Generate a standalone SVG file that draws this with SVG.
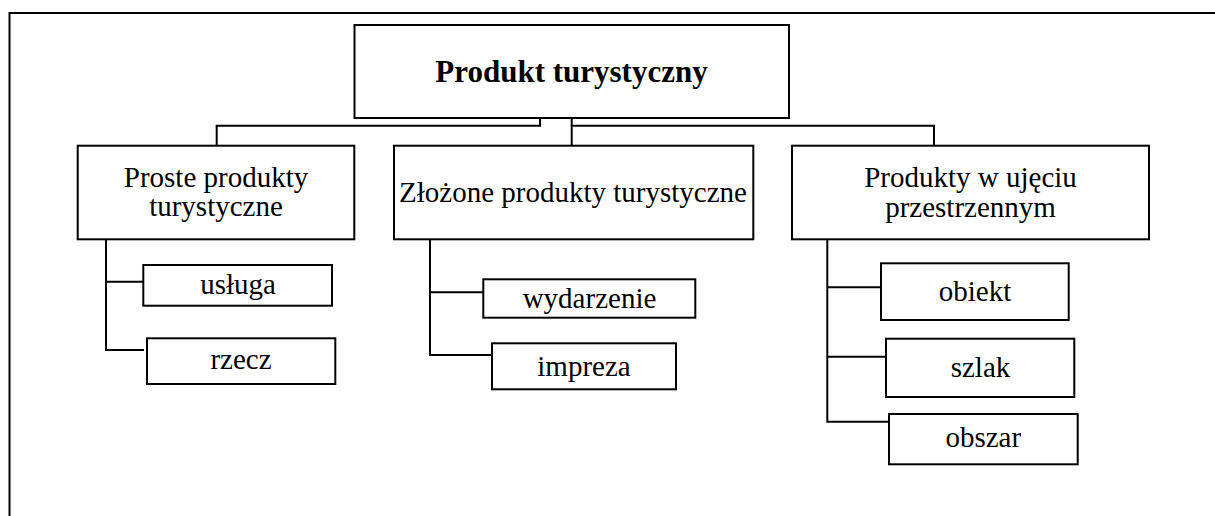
<svg xmlns="http://www.w3.org/2000/svg" width="1215" height="516" viewBox="0 0 1215 516">
<style>
.box{fill:#fff;stroke:#000;stroke-width:2}
.ln{fill:none;stroke:#000;stroke-width:2}
text{font-family:"Liberation Serif","Times New Roman",serif;font-size:29px;fill:#000;text-anchor:middle}
.title{font-weight:bold;font-size:31px}
</style>
<rect width="1215" height="516" fill="#fff"/>
<path class="ln" d="M9.5 516 V13 H1215"/>
<g id="connectors">
<path class="ln" d="M540 118 V125.7 H216.7 V145"/>
<path class="ln" d="M571.7 118 V145 M571.7 125.7 H934 V145"/>
<path class="ln" d="M106 239 V350 H144 M106 281.7 H143"/>
<path class="ln" d="M430 239 V355 H492 M430 292.3 H483"/>
<path class="ln" d="M827.3 239 V421.7 H889 M827.3 287.3 H881 M827.3 356.7 H886"/>
</g>
<g id="root"><rect class="box" x="354.5" y="25" width="434.5" height="93"/><text class="title" x="571.5" y="81.7">Produkt turystyczny</text></g>
<g id="proste"><rect class="box" x="77.7" y="145.7" width="276.6" height="93.6"/><text x="216" y="186.7">Proste produkty</text><text x="216" y="216">turystyczne</text></g>
<g id="zlozone"><rect class="box" x="394" y="145.7" width="359.3" height="93.6"/><text x="573" y="201.7">Złożone produkty turystyczne</text></g>
<g id="przestrzenne"><rect class="box" x="792" y="145.7" width="357" height="93.6"/><text x="970.5" y="186.7">Produkty w ujęciu</text><text x="970.5" y="216.7">przestrzennym</text></g>
<g id="usluga"><rect class="box" x="143.3" y="265" width="188.7" height="40.7"/><text x="238" y="294.3">usługa</text></g>
<g id="rzecz"><rect class="box" x="147" y="338.3" width="188.3" height="45.7"/><text x="241" y="369.3">rzecz</text></g>
<g id="wydarzenie"><rect class="box" x="483.3" y="279.3" width="212" height="38.4"/><text x="589.5" y="307.7">wydarzenie</text></g>
<g id="impreza"><rect class="box" x="492" y="343.3" width="184" height="46"/><text x="584" y="375.7">impreza</text></g>
<g id="obiekt"><rect class="box" x="881" y="263.3" width="187.7" height="56.7"/><text x="975" y="300.7">obiekt</text></g>
<g id="szlak"><rect class="box" x="886" y="338.7" width="188.3" height="58.3"/><text x="980.5" y="376.7">szlak</text></g>
<g id="obszar"><rect class="box" x="889" y="414" width="188.7" height="50.3"/><text x="983.3" y="447.3">obszar</text></g>
</svg>
